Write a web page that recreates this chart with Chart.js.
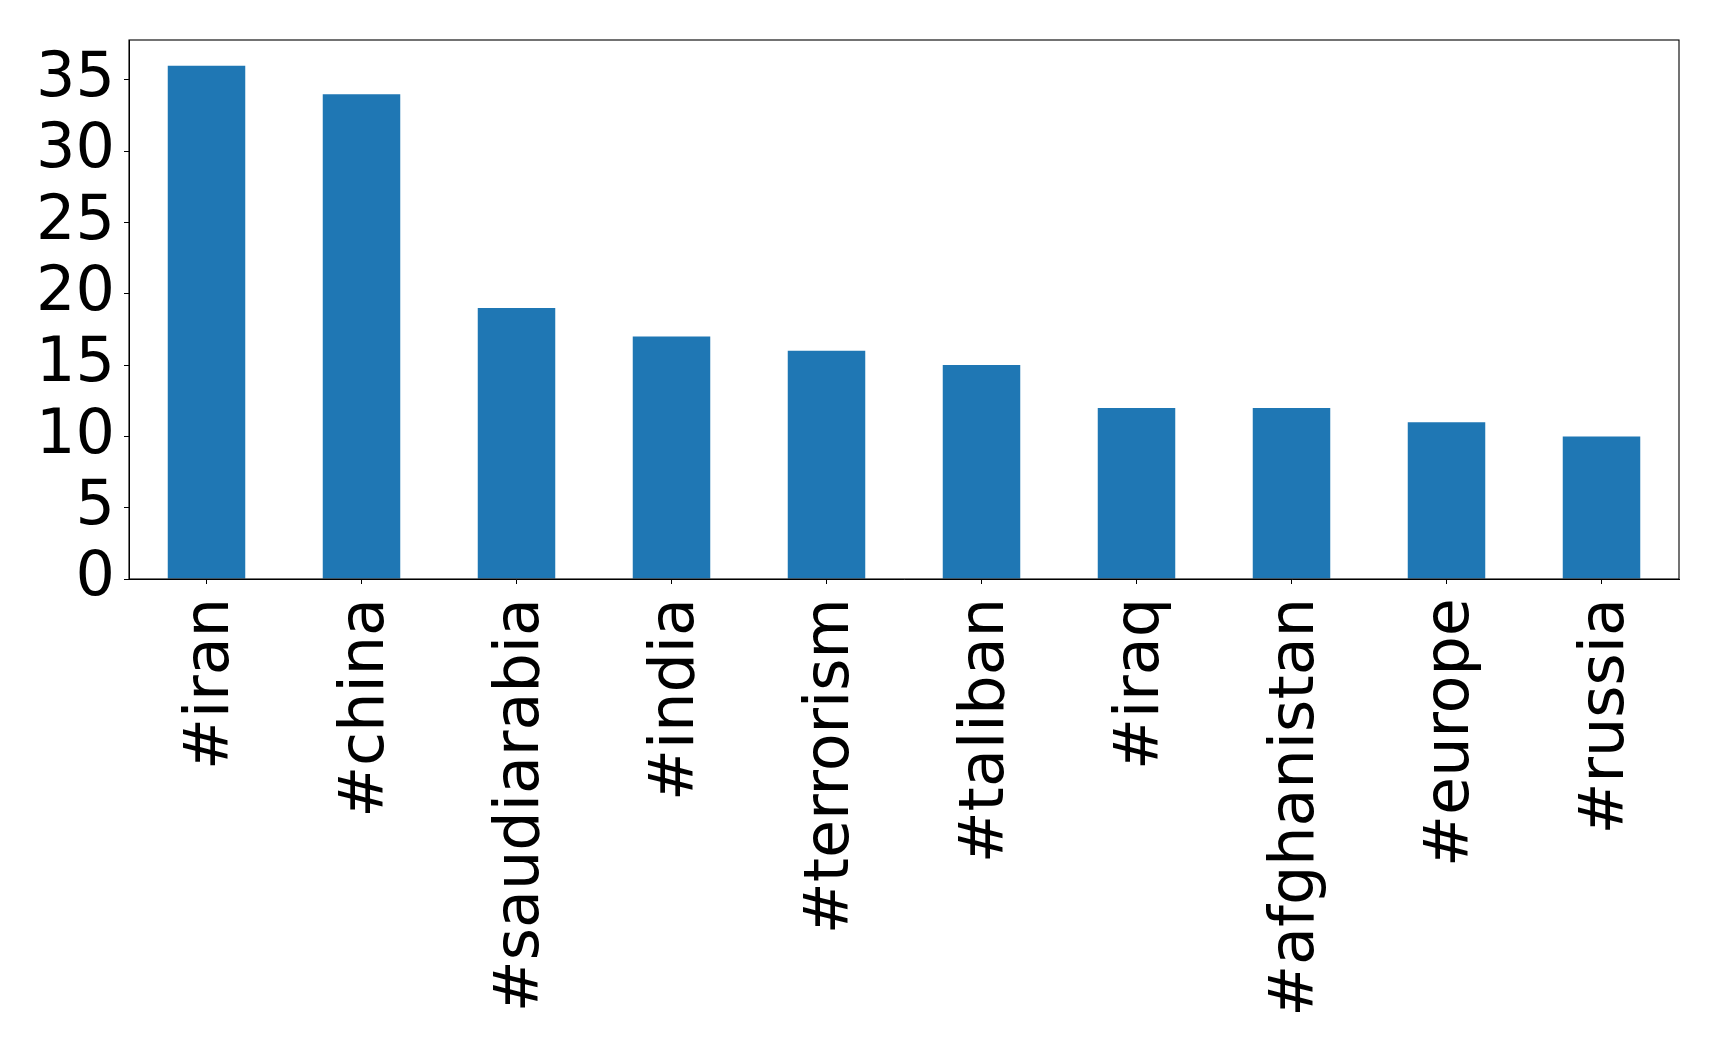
<!DOCTYPE html>
<html>
<head>
<meta charset="utf-8">
<script src="https://cdn.jsdelivr.net/npm/chart.js@4/dist/chart.umd.min.js"></script>
<style>
html,body{margin:0;padding:0;background:#fff;}
#wrap{width:1719px;height:1050px;position:relative;}
</style>
</head>
<body>
<div id="wrap"><canvas id="c" width="1719" height="1050"></canvas></div>
<script>
const categories = ["#iran","#china","#saudiarabia","#india","#terrorism","#taliban","#iraq","#afghanistan","#europe","#russia"];
const counts = [36,34,19,17,16,15,12,12,11,10];
const yTicks = [0,5,10,15,20,25,30,35];
const yMax = 37.8;

const frame = {
  id:'frame',
  afterDraw(chart){
    const a = chart.chartArea, ctx = chart.ctx;
    ctx.save();
    ctx.strokeStyle = '#000';
    ctx.lineWidth = 1.1;
    ctx.strokeRect(a.left, a.top, a.right - a.left, a.bottom - a.top);
    ctx.restore();
  }
};

new Chart(document.getElementById('c'), {
  type:'bar',
  data:{labels:categories, datasets:[{data:counts, backgroundColor:'#1f77b4', borderWidth:0, categoryPercentage:1.0, barPercentage:0.5}]},
  options:{
    responsive:false, animation:false,
    layout:{padding:{top:40,right:40,left:0,bottom:0}},
    plugins:{legend:{display:false}, tooltip:{enabled:false}},
    scales:{
      x:{
        grid:{display:true, offset:false, drawOnChartArea:false, tickLength:5, color:'#000', lineWidth:1},
        border:{display:true, color:'#000', width:1},
        ticks:{font:{family:'DejaVu Sans', size:62}, color:'#000', maxRotation:90, minRotation:90, padding:14, labelOffset:5, autoSkip:false},
        afterFit(s){ s.height = 1050 - 579; s.paddingLeft = 0; s.paddingRight = 0; }
      },
      y:{
        min:0, max:yMax,
        grid:{display:true, drawOnChartArea:false, tickLength:5, color:'#000', lineWidth:1},
        border:{display:true, color:'#000', width:1},
        ticks:{font:{family:'DejaVu Sans', size:62}, color:'#000', padding:9, autoSkip:false},
        afterBuildTicks(s){ s.ticks = yTicks.map(v=>({value:v})); },
        afterFit(s){ s.width = 129; s.paddingTop = 0; s.paddingBottom = 0; }
      }
    }
  },
  plugins:[frame]
});
</script>
</body>
</html>
